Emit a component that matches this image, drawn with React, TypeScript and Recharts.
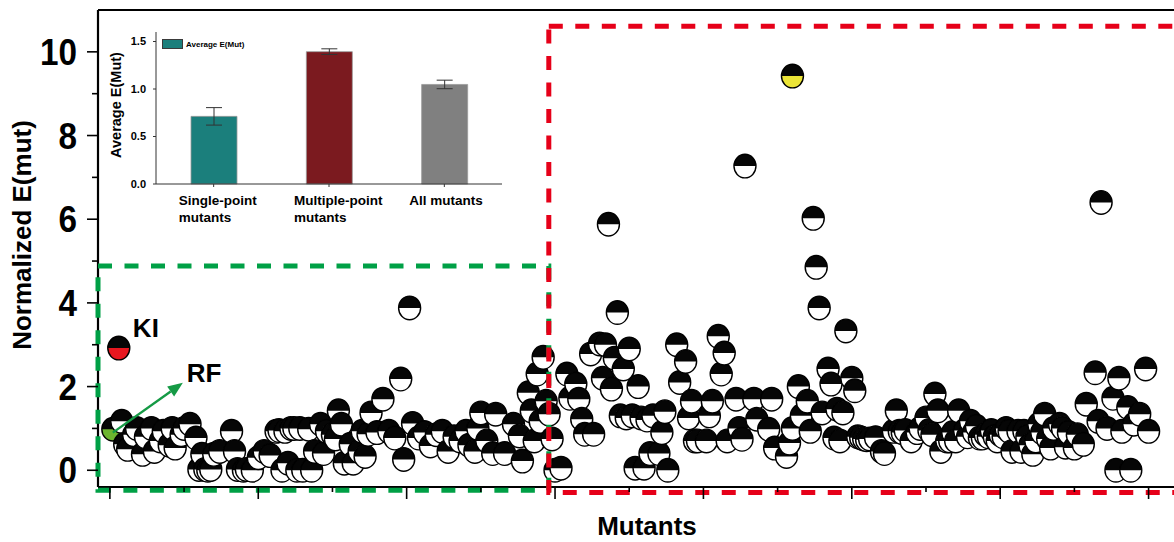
import React from "react";
import {
  ScatterChart,
  Scatter,
  XAxis,
  YAxis,
  ReferenceArea,
  ReferenceLine,
  ReferenceDot,
  Label,
  BarChart,
  Bar,
  Cell,
  ErrorBar,
} from "recharts";

const FONT = "'Liberation Sans', Arial, sans-serif";

// [mutant no., normalized E(mut)] - single-point region (green box)
const greenZone: [number, number][] = [
  [4, 1.17], [5, 0.62], [6, 0.5], [8, 0.85], [9, 1.0], [11, 0.38], [12, 0.8], [14, 1.0],
  [15, 0.45], [17, 0.7], [18, 0.93], [20, 0.6], [21, 1.0], [22, 0.53], [24, 0.85], [25, 1.0],
  [27, 1.1], [29, 0.77], [30, 0.02], [31, 0.38], [32, 0.02], [33, 0.0], [34, 0.02], [35, 0.38],
  [37, 0.45], [41, 0.93], [42, 0.45], [43, 0.02], [45, 0.0], [46, 0.02], [48, 0.0], [50, 0.3],
  [52, 0.45], [54, 0.35], [56, 0.93], [57, 0.95], [58, 0.0], [59, 0.93], [60, 0.17], [61, 1.0],
  [62, 1.0], [63, 0.0], [64, 1.0], [65, 0.0], [67, 0.98], [68, 0.0], [69, 0.45], [71, 1.1],
  [72, 0.4], [73, 0.93], [75, 0.85], [76, 0.75], [77, 1.42], [78, 1.1], [79, 0.17], [81, 0.62],
  [82, 0.17], [84, 0.45], [85, 0.93], [86, 0.33], [87, 0.86], [88, 1.37], [90, 0.9], [92, 1.7],
  [94, 0.93], [96, 0.77], [98, 2.18], [99, 0.26], [101, 3.88], [102, 1.12], [104, 0.77],
  [106, 0.9], [108, 0.58], [110, 0.85], [112, 0.93], [114, 0.45], [116, 0.8], [118, 0.7],
  [120, 0.93], [121, 0.6],
];

// multiple-point region (red box)
const redZone: [number, number][] = [
  [123, 0.45], [124, 1.0], [125, 1.37], [127, 0.7], [129, 0.4], [130, 1.34], [133, 0.4],
  [136, 1.1], [138, 0.82], [139, 0.22], [141, 1.85], [142, 1.42], [143, 0.7], [144, 2.3],
  [145, 1.17], [146, 2.7], [147, 1.65], [148, 1.34], [149, 0.75], [150, 0.0], [152, 0.05],
  [154, 2.3], [155, 1.72], [157, 2.06], [158, 1.7], [159, 1.22], [160, 0.86], [162, 2.78],
  [163, 0.86], [165, 3.02], [166, 2.2], [167, 3.0], [168, 5.88], [169, 1.94], [170, 2.68],
  [171, 3.77], [172, 1.3], [173, 2.42], [174, 1.25], [175, 2.9], [176, 1.3], [177, 0.05],
  [178, 2.0], [179, 1.25], [180, 0.05], [181, 1.2], [182, 0.4], [183, 1.3], [185, 0.4],
  [186, 0.9], [187, 1.4], [188, 0.0], [191, 3.0], [192, 2.1], [194, 2.6], [195, 1.25],
  [196, 1.65], [197, 0.7], [198, 0.7], [201, 0.7], [202, 1.3], [203, 1.65], [205, 3.2],
  [206, 2.3], [207, 2.8], [208, 0.7], [211, 1.7], [212, 1.0], [213, 0.74], [214, 7.27],
  [217, 1.7], [218, 1.22], [222, 0.98], [223, 1.7], [224, 0.53], [228, 0.33], [229, 0.65],
  [230, 1.0], [232, 2.0], [233, 1.3], [235, 1.65], [236, 0.93], [237, 6.02], [238, 4.85],
  [239, 3.88], [240, 1.37], [242, 2.42], [243, 2.06], [244, 0.77], [245, 1.46], [246, 0.7],
  [247, 1.37], [248, 3.33], [250, 2.2], [251, 1.9], [252, 0.8], [253, 0.78], [254, 0.75],
  [255, 0.73], [256, 0.75], [258, 0.78], [260, 0.45], [261, 0.4], [264, 0.93], [265, 1.42],
  [266, 0.93], [267, 0.9], [268, 0.95], [270, 0.7], [272, 0.9], [273, 1.0], [275, 1.25],
  [276, 0.95], [277, 0.85], [278, 1.82], [279, 1.42], [280, 0.45], [282, 0.7], [283, 0.7],
  [284, 0.9], [285, 0.7], [286, 1.42], [288, 0.95], [289, 0.8], [290, 1.17], [291, 0.9],
  [292, 1.05], [293, 0.77], [294, 0.77], [295, 0.85], [296, 0.8], [297, 0.95], [298, 0.8],
  [299, 0.7], [300, 0.85], [301, 0.8], [302, 1.0], [303, 0.93], [304, 0.45], [306, 0.93],
  [307, 0.45], [308, 0.93], [309, 0.8], [310, 0.6], [311, 0.38], [312, 0.7], [313, 1.1],
  [314, 0.9], [315, 1.34], [316, 0.75], [317, 0.53], [318, 1.0], [320, 1.1], [321, 1.0],
  [322, 0.55], [323, 0.9], [325, 0.53], [326, 0.85], [328, 0.62], [329, 1.58], [332, 2.33],
  [333, 1.17], [334, 6.4], [336, 1.0], [338, 1.72], [339, 0.0], [340, 2.2], [341, 0.93],
  [343, 1.5], [344, 0.0], [345, 1.1], [347, 1.34], [349, 2.42], [350, 0.93],
];

const rfMutant: [number, number][] = [[1, 0.98]];
const kiMutant: [number, number][] = [[3, 2.92]];
const topMutant: [number, number][] = [[230, 9.42]];

const yTicks = [0, 1, 2, 3, 4, 5, 6, 7, 8, 9, 10];
const xTicks = [0, 25, 50, 75, 100, 125, 150, 175, 200, 225, 250, 275, 300, 325, 350];

// inset
const insetGroups = ["Single-point|mutants", "Multiple-point|mutants", "All mutants"];
const insetAverages = [0.712, 1.393, 1.048];
const insetErrors = [0.092, 0.03, 0.045];
const insetTicks = [0, 0.5, 1.0, 1.5];
const insetColors = ["#1b7f7c", "#7b1a1f", "#808080"];

const toPoints = (rows: [number, number][]) => rows.map(([id, e]) => ({ id, e }));

const mainPoints = toPoints([...greenZone, ...redZone]);
const insetData = insetGroups.map((group, i) => ({
  group,
  avg: insetAverages[i],
  err: insetErrors[i],
}));

const HalfDot = ({ cx, cy, lower }: any) => {
  const rx = 11;
  const ry = 11.8;
  return (
    <g>
      <ellipse cx={cx} cy={cy} rx={rx} ry={ry} fill={lower} />
      <path d={`M${cx - rx},${cy} A${rx},${ry} 0 0 1 ${cx + rx},${cy} Z`} fill="#060606" />
      <ellipse cx={cx} cy={cy} rx={rx} ry={ry} fill="none" stroke="#000" strokeWidth={1.4} />
    </g>
  );
};

const dot = (lower: string) => (p: any) => <HalfDot cx={p.cx} cy={p.cy} lower={lower} />;

const MainXTick = ({ x, y, payload }: any) => (
  <line
    x1={x}
    x2={x}
    y1={y}
    y2={y + (payload.value % 50 === 0 ? 12 : 5)}
    stroke="#000"
    strokeWidth={1.6}
  />
);

const MainYTick = ({ x, y, payload }: any) => {
  const major = payload.value % 2 === 0;
  return (
    <g>
      <line x1={x - (major ? 11 : 6)} x2={x} y1={y} y2={y} stroke="#000" strokeWidth={1.6} />
      {major && (
        <text
          transform={`translate(${x - 21},${y + 13}) scale(0.9,1.02)`}
          textAnchor="end"
          fontSize={37}
          fontWeight="bold"
          fontFamily={FONT}
          fill="#000"
        >
          {payload.value}
        </text>
      )}
    </g>
  );
};

const Arrow = ({ x1, y1, x2, y2 }: any) => {
  const a = Math.atan2(y2 - y1, x2 - x1);
  const len = 15;
  const half = 6;
  const bx = x2 - len * Math.cos(a);
  const by = y2 - len * Math.sin(a);
  const pts = `${x2},${y2} ${bx + half * Math.sin(a)},${by - half * Math.cos(a)} ${bx - half * Math.sin(a)},${by + half * Math.cos(a)}`;
  return (
    <g>
      <line x1={x1} y1={y1} x2={bx} y2={by} stroke="#159a45" strokeWidth={2.4} />
      <polygon points={pts} fill="#159a45" />
    </g>
  );
};

const tag = (txt: string) => (p: any) => (
  <text x={p.cx} y={p.cy} fontSize={26} fontWeight="bold" fontFamily={FONT} fill="#000">
    {txt}
  </text>
);

const InsetXTick = ({ x, y, payload }: any) => {
  const lines = String(payload.value).split("|");
  return (
    <text x={x - 35} y={y + 16} fontSize={13.5} fontWeight="bold" fontFamily={FONT} fill="#000">
      {lines.map((l, i) => (
        <tspan key={i} x={x - 35} dy={i === 0 ? 0 : 17}>
          {l}
        </tspan>
      ))}
    </text>
  );
};

const Inset = () => (
  <div style={{ position: "absolute", left: 100, top: 20 }}>
    <BarChart
      width={410}
      height={215}
      data={insetData}
      margin={{ top: 12, right: 8, bottom: 0, left: 0 }}
    >
      <XAxis
        dataKey="group"
        height={51}
        interval={0}
        tick={<InsetXTick />}
        tickSize={3}
        tickMargin={2}
        tickLine={{ stroke: "#333" }}
        axisLine={{ stroke: "#333" }}
      />
      <XAxis
        xAxisId="top"
        orientation="top"
        dataKey="group"
        height={0}
        tick={false}
        tickLine={false}
        axisLine={{ stroke: "#555" }}
      />
      <YAxis
        width={56}
        domain={[0, 1.6]}
        ticks={insetTicks}
        interval={0}
        tickSize={3}
        tickMargin={7}
        tickFormatter={(v: number) => v.toFixed(1)}
        tick={{ fontSize: 11, fontWeight: "bold", fill: "#000", fontFamily: FONT }}
        tickLine={{ stroke: "#333" }}
        axisLine={{ stroke: "#333" }}
      >
        <Label
          content={() => (
            <text
              x={21}
              y={85}
              transform="rotate(-90 21 85)"
              textAnchor="middle"
              fontSize={14.5}
              fontWeight="bold"
              fontFamily={FONT}
              fill="#000"
            >
              Average E(Mut)
            </text>
          )}
        />
      </YAxis>
      <YAxis
        yAxisId="right"
        orientation="right"
        width={0}
        tick={false}
        tickLine={false}
        axisLine={{ stroke: "#555" }}
      />
      <Bar dataKey="avg" barSize={46} stroke="#9a9a9a" strokeWidth={0.8} isAnimationActive={false}>
        {insetData.map((_, i) => (
          <Cell key={i} fill={insetColors[i]} />
        ))}
        <ErrorBar dataKey="err" width={8} stroke="#333" strokeWidth={1} />
      </Bar>
    </BarChart>
    <div
      style={{
        position: "absolute",
        left: 62,
        top: 19,
        display: "flex",
        alignItems: "center",
        fontFamily: FONT,
        fontSize: 8,
        fontWeight: "bold",
        color: "#000",
        whiteSpace: "nowrap",
      }}
    >
      <span
        style={{
          display: "inline-block",
          width: 19,
          height: 8,
          background: insetColors[0],
          border: "1px solid #3a3a3a",
          marginRight: 3,
        }}
      />
      Average E(Mut)
    </div>
  </div>
);

export default function App() {
  return (
    <div
      style={{
        position: "fixed",
        left: 0,
        top: 0,
        width: 1174,
        height: 542,
        overflow: "hidden",
        background: "#fff",
      }}
    >
      <ScatterChart
        width={1202}
        height={542}
        margin={{ top: 10, right: 0, bottom: 0, left: 8 }}
        style={{ fontFamily: FONT }}
      >
        <XAxis
          type="number"
          dataKey="id"
          domain={[-4, 368]}
          ticks={xTicks}
          interval={0}
          height={55}
          tick={<MainXTick />}
          tickSize={0}
          tickMargin={0}
          tickLine={false}
          axisLine={{ stroke: "#000", strokeWidth: 2.2 }}
        >
          <Label
            content={() => (
              <text
                x={647}
                y={535}
                textAnchor="middle"
                fontSize={26}
                fontWeight="bold"
                fontFamily={FONT}
                fill="#000"
              >
                Mutants
              </text>
            )}
          />
        </XAxis>
        <YAxis
          type="number"
          dataKey="e"
          domain={[-0.4, 11]}
          ticks={yTicks}
          interval={0}
          width={90}
          tick={<MainYTick />}
          tickSize={0}
          tickMargin={0}
          tickLine={false}
          axisLine={{ stroke: "#000", strokeWidth: 2.2 }}
        >
          <Label
            content={() => (
              <text
                x={31}
                y={235}
                transform="rotate(-90 31 235)"
                textAnchor="middle"
                fontSize={26}
                fontWeight="bold"
                fontFamily={FONT}
                fill="#000"
              >
                Normalized E(mut)
              </text>
            )}
          />
        </YAxis>

        <Scatter data={toPoints(rfMutant)} shape={dot("#6cb52f")} isAnimationActive={false} />
        <Scatter data={mainPoints} shape={dot("#fff")} isAnimationActive={false} />
        <Scatter data={toPoints(kiMutant)} shape={dot("#e8171f")} isAnimationActive={false} />
        <Scatter data={toPoints(topMutant)} shape={dot("#ece537")} isAnimationActive={false} />

        <ReferenceLine y={11} stroke="#000" strokeWidth={2.2} zIndex={700} />
        <ReferenceArea
          x1={-4}
          x2={147.9}
          y1={-0.48}
          y2={4.88}
          ifOverflow="visible"
          fill="none"
          fillOpacity={0}
          stroke="#00a046"
          strokeWidth={5}
          strokeDasharray="14 12.5"
          zIndex={700}
        />
        <ReferenceArea
          x1={147.9}
          x2={400}
          y1={-0.53}
          y2={10.61}
          ifOverflow="visible"
          fill="none"
          fillOpacity={0}
          stroke="#e60019"
          strokeWidth={5}
          strokeDasharray="14 12.5"
          zIndex={710}
        />
        <ReferenceLine
          segment={[
            { x: 1, y: 0.9 },
            { x: 24.6, y: 2.09 },
          ]}
          shape={(p: any) => <Arrow {...p} />}
          zIndex={720}
        />
        <ReferenceDot x={7.75} y={3.18} r={0} shape={tag("KI")} zIndex={720} />
        <ReferenceDot x={25.9} y={2.1} r={0} shape={tag("RF")} zIndex={720} />
      </ScatterChart>
      <Inset />
    </div>
  );
}
